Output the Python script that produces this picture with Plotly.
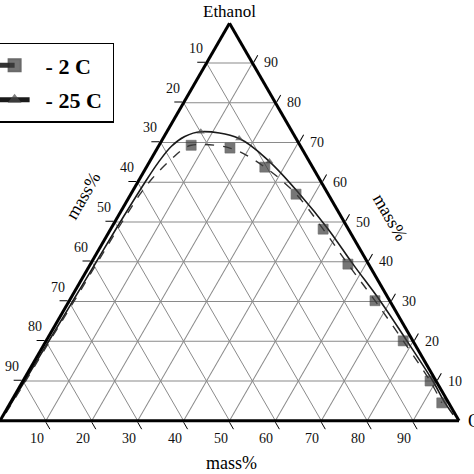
"""Ternary phase diagram: Ethanol / (B) / (C) binodal curves at -2 C and -25 C."""
import math

import plotly.graph_objects as go

FONT = "Liberation Serif"

# mass% tick values used on all three edges
TICKS = [10, 20, 30, 40, 50, 60, 70, 80, 90]

# -2 C curve: left branch (line only), Ethanol mass% and C mass%
ETH_2C_LEFT = [2, 10, 20, 30, 40, 50, 57, 61, 63.5, 66, 68]
C_2C_LEFT = [0.3, 0.6, 0.8, 1.1, 1.3, 1.6, 2.0, 2.7, 3.5, 4.5, 5.5]
# -2 C measured points (squares)
ETH_2C = [69.3, 68.6, 63.8, 57.0, 48.2, 39.4, 30.2, 20.1, 10.0, 4.5]
C_2C = [7.0, 15.8, 25.8, 36.0, 46.3, 56.1, 66.6, 77.8, 88.7, 94.0]

# -25 C curve: left branch (line only)
ETH_25C_LEFT = [2, 10, 20, 30, 40, 50, 60, 65, 69, 71.5]
C_25C_LEFT = [0.2, 0.4, 0.6, 0.8, 1.0, 1.2, 1.6, 2.0, 2.8, 4.5]
# -25 C visible triangles near the top
ETH_25C = [72.7, 71.0, 65.2]
C_25C = [7.4, 16.6, 26.1]
# -25 C right branch (line only)
ETH_25C_RIGHT = [57.0, 48.2, 39.4, 30.2, 20.1, 10.0, 4.5, 1.5]
C_25C_RIGHT = [36.8, 47.4, 57.2, 67.7, 78.6, 89.3, 94.7, 98.0]

W, H = 474, 474
MARGIN = dict(l=0, r=15, t=23, b=53)
PLOT_W = W - MARGIN["l"] - MARGIN["r"]
PLOT_H = H - MARGIN["t"] - MARGIN["b"]
TRI_H = PLOT_W * math.sqrt(3) / 2 / PLOT_H   # triangle height in paper units


def paper(eth, c):
    """ternary (Ethanol, C) in mass% -> paper coords of the ternary subplot"""
    return c / 100 + eth / 200, (1 - TRI_H) / 2 + eth / 100 * TRI_H


fig = go.Figure()

a25 = ETH_25C_LEFT + ETH_25C + ETH_25C_RIGHT
c25 = C_25C_LEFT + C_25C + C_25C_RIGHT
size25 = [0] * len(ETH_25C_LEFT) + [7] * len(ETH_25C) + [0] * len(ETH_25C_RIGHT)
fig.add_trace(go.Scatterternary(
    a=a25, c=c25, mode="lines+markers", name="<b>\u00a0\u00a0- 25 C\u00a0</b>",
    line=dict(color="#1a1a1a", width=1.6, shape="spline"),
    marker=dict(symbol="triangle-up", size=size25, color="#4a4a4a",
                line=dict(width=0)),
    legendgroup="t25", legendrank=2))

a2 = ETH_2C_LEFT + ETH_2C
c2 = C_2C_LEFT + C_2C
size2 = [0] * len(ETH_2C_LEFT) + [10] * len(ETH_2C)
fig.add_trace(go.Scatterternary(
    a=a2, c=c2, mode="lines+markers", name="<b>\u00a0\u00a0- 2 C</b>",
    line=dict(color="#333333", width=1.4, dash="dash", shape="spline"),
    marker=dict(symbol="square", size=size2, color="#3c3c3c",
                line=dict(width=0.6, color="#2a2a2a")),
    legendgroup="t2", legendrank=1))

axis_common = dict(
    title=dict(text=""),
    tickmode="array", tickvals=TICKS, showticklabels=False,
    ticks="outside", ticklen=8, tickwidth=1.3, tickcolor="black",
    showline=True, linecolor="black", linewidth=3,
    showgrid=True, gridcolor="#8a8a8a", gridwidth=1, min=0,
)

# edge labels: left edge carries B (bottom-left component), bottom carries C,
# right edge carries Ethanol -- placed at the grid line ends like the original
tick_font = dict(family=FONT, size=14, color="#111")
annotations = []
for t in TICKS:
    x, y = paper(t, 0)
    annotations.append(dict(text=str(100 - t), x=x, y=y, xshift=-11, yshift=14.5,
                            font=tick_font))
    x, y = paper(0, t)
    annotations.append(dict(text=str(t), x=x, y=y, xshift=-9, yshift=-18,
                            font=tick_font))
    x, y = paper(t, 100 - t)
    annotations.append(dict(text=str(t), x=x, y=y, xshift=19, yshift=0,
                            font=tick_font))

title_font = dict(family=FONT, size=18, color="black")
annotations += [
    dict(text="Ethanol", x=0.5, y=1.03, font=dict(family=FONT, size=17, color="black")),
    dict(text="mass%", x=0.505, y=-0.1055, font=title_font),
    dict(text="mass%", x=0.181, y=0.565, textangle=-60, font=title_font),
    dict(text="mass%", x=0.85, y=0.513, textangle=60, font=title_font),
    dict(text="Oil", x=1.015, y=0.0, xanchor="left", font=title_font),
]
for ann in annotations:
    ann.setdefault("xanchor", "center")
    ann.update(xref="paper", yref="paper", yanchor="middle", showarrow=False)

fig.update_layout(
    width=W, height=H,
    margin=dict(**MARGIN, autoexpand=False),
    paper_bgcolor="white", plot_bgcolor="white",
    font=dict(family=FONT, color="black"),
    ternary=dict(
        sum=100, bgcolor="white",
        domain=dict(x=[0, 1], y=[0, 1]),
        aaxis=axis_common, baxis=axis_common, caxis=axis_common,
    ),
    legend=dict(
        x=-0.015, y=0.95, xanchor="left", yanchor="top",
        bgcolor="white", bordercolor="black", borderwidth=1.5,
        font=dict(family=FONT, size=22, color="black"),
        itemsizing="constant", tracegroupgap=3,
    ),
    annotations=annotations,
)

fig.write_html("out.html", config={"displayModeBar": False},
               post_script="document.body.style.margin='0px';")
